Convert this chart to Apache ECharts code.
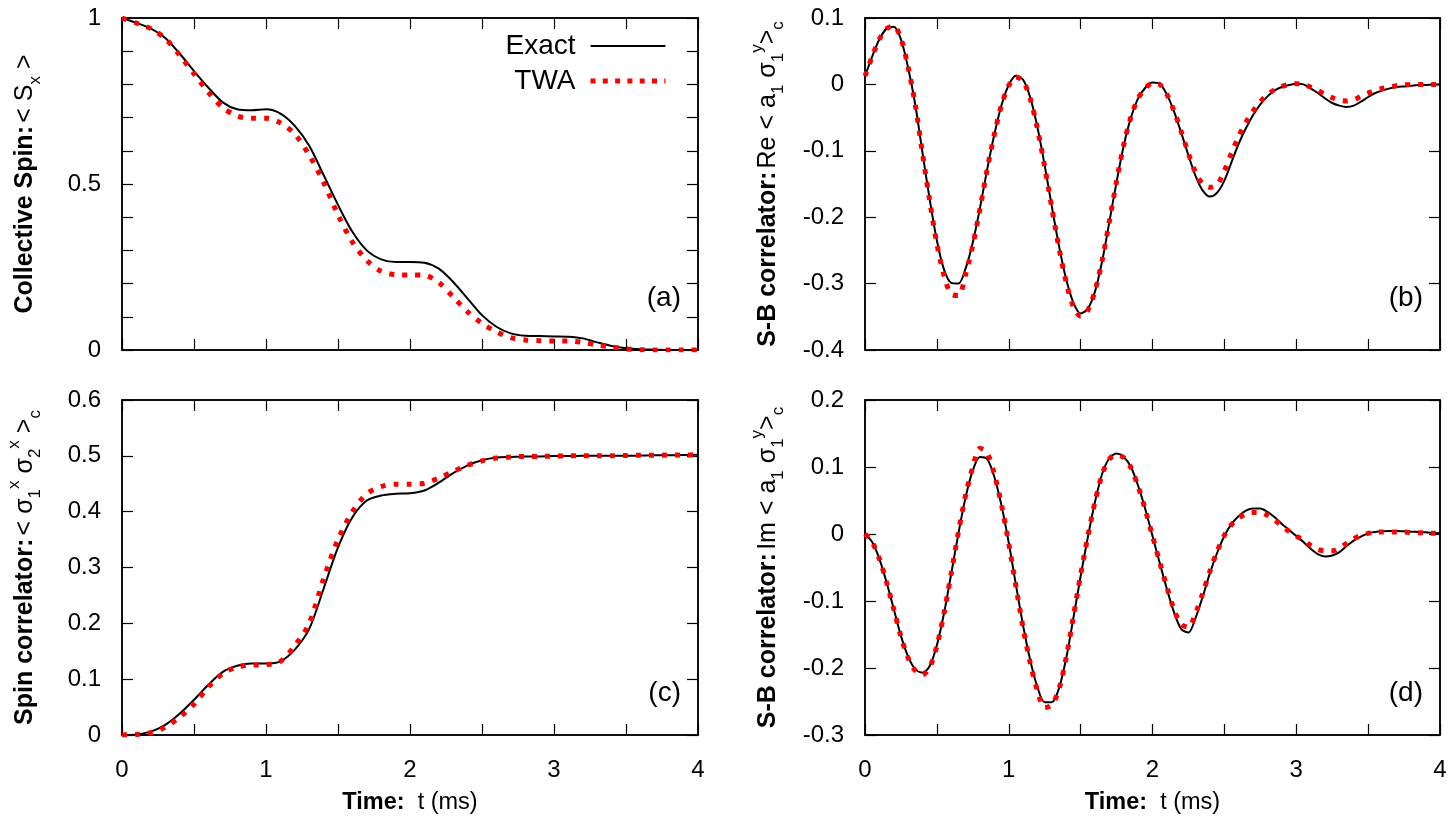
<!DOCTYPE html>
<html><head><meta charset="utf-8">
<script src="https://cdn.jsdelivr.net/npm/echarts@6/dist/echarts.min.js"></script>
<style>html,body{margin:0;padding:0;background:#fff}#c{width:1456px;height:821px}</style>
</head><body><div id="c"></div>
<script>
// ---------- data ----------
const tCoarse = [0,0.1,0.2,0.3,0.4,0.5,0.6,0.7,0.8,0.9,1.0,1.1,1.2,1.3,1.4,1.5,1.6,1.7,1.8,1.9,2.0,
  2.1,2.2,2.3,2.4,2.5,2.6,2.7,2.8,2.9,3.0,3.1,3.2,3.3,3.4,3.5,3.6,3.7,3.8,3.9,4.0];
const tFine = [0,0.05,0.1,0.15,0.2,0.25,0.3,0.35,0.4,0.45,0.5,0.55,0.6,0.65,0.7,0.75,0.8,0.85,0.9,0.95,
  1.0,1.05,1.1,1.15,1.2,1.25,1.3,1.35,1.4,1.45,1.5,1.55,1.6,1.65,1.7,1.75,1.8,1.85,1.9,1.95,
  2.0,2.05,2.1,2.15,2.2,2.25,2.3,2.35,2.4,2.45,2.5,2.55,2.6,2.65,2.7,2.75,2.8,2.85,2.9,2.95,
  3.0,3.05,3.1,3.15,3.2,3.25,3.3,3.35,3.4,3.45,3.5,3.55,3.6,3.65,3.7,3.75,3.8,3.85,3.9,3.95,4.0];

// (a) collective spin
const exactA = [1.0,0.985,0.968,0.94,0.893,0.84,0.79,0.746,0.725,0.722,
  0.725,0.712,0.675,0.615,0.527,0.437,0.356,0.300,0.273,0.265,
  0.265,0.263,0.245,0.205,0.155,0.105,0.070,0.050,0.043,0.042,
  0.041,0.040,0.035,0.023,0.012,0.005,0.002,0.001,0.000,0.000,0.000];
const twaA = [1.0,0.985,0.968,0.938,0.888,0.832,0.776,0.730,0.705,0.698,
  0.698,0.684,0.650,0.587,0.505,0.407,0.325,0.270,0.237,0.227,
  0.226,0.225,0.203,0.160,0.115,0.080,0.055,0.037,0.030,0.028,
  0.027,0.027,0.023,0.015,0.009,0.003,0.001,0.000,0.000,0.000,0.000];

// (b) Re S-B correlator
const exactB = [0.0125,0.042,0.068,0.084,0.087,0.068,0.025,-0.031,-0.103,-0.173,
  -0.235,-0.279,-0.299,-0.300,-0.277,-0.238,-0.186,-0.128,-0.075,-0.031,
  -0.001,0.013,0.007,-0.020,-0.065,-0.122,-0.184,-0.244,-0.294,-0.329,
  -0.345,-0.338,-0.312,-0.266,-0.207,-0.147,-0.092,-0.050,-0.021,-0.005,
  0.003,0.001,-0.015,-0.041,-0.073,-0.107,-0.138,-0.160,-0.169,-0.163,
  -0.145,-0.117,-0.089,-0.066,-0.046,-0.030,-0.018,-0.009,-0.004,-0.001,
  0.001,0.000,-0.006,-0.013,-0.021,-0.028,-0.032,-0.034,-0.032,-0.026,
  -0.019,-0.013,-0.009,-0.006,-0.004,-0.003,-0.002,-0.001,-0.001,0.000,0.000];
const twaB = [0.0125,0.042,0.068,0.084,0.088,0.069,0.026,-0.031,-0.104,-0.175,
  -0.240,-0.288,-0.316,-0.318,-0.286,-0.242,-0.187,-0.128,-0.075,-0.031,
  -0.002,0.011,0.005,-0.022,-0.067,-0.124,-0.186,-0.247,-0.298,-0.335,
  -0.349,-0.340,-0.311,-0.265,-0.206,-0.146,-0.091,-0.049,-0.021,-0.006,
  0.002,0.000,-0.015,-0.040,-0.071,-0.104,-0.133,-0.150,-0.155,-0.151,
  -0.130,-0.103,-0.078,-0.057,-0.040,-0.026,-0.015,-0.008,-0.003,0.000,
  0.001,0.000,-0.004,-0.009,-0.015,-0.020,-0.024,-0.025,-0.023,-0.018,
  -0.013,-0.009,-0.006,-0.004,-0.002,-0.001,0.000,0.000,0.000,0.000,0.000];

// (c) spin correlator
const exactC = [0,0.001,0.006,0.018,0.038,0.063,0.090,0.113,0.124,0.128,
  0.128,0.132,0.153,0.190,0.262,0.336,0.390,0.420,0.429,0.432,
  0.433,0.438,0.452,0.469,0.483,0.492,0.497,0.498,0.499,0.499,
  0.4995,0.4995,0.500,0.500,0.500,0.500,0.5005,0.501,0.501,0.5015,0.502];
const twaC = [0,0.001,0.004,0.014,0.032,0.055,0.086,0.110,0.122,0.125,
  0.126,0.132,0.160,0.200,0.280,0.350,0.400,0.432,0.445,0.449,
  0.449,0.451,0.460,0.472,0.483,0.491,0.496,0.498,0.499,0.499,
  0.4995,0.500,0.500,0.500,0.500,0.5005,0.501,0.501,0.5015,0.5015,0.502];

// (d) Im S-B correlator
const exactD = [0,-0.012,-0.037,-0.072,-0.112,-0.152,-0.183,-0.202,-0.207,-0.197,
  -0.166,-0.118,-0.059,0.001,0.055,0.095,0.115,0.112,0.085,0.042,
  -0.013,-0.076,-0.137,-0.189,-0.229,-0.251,-0.251,-0.230,-0.185,-0.125,
  -0.063,-0.005,0.048,0.090,0.113,0.120,0.115,0.100,0.072,0.037,
  -0.003,-0.043,-0.082,-0.117,-0.142,-0.147,-0.125,-0.093,-0.058,-0.028,
  -0.003,0.015,0.027,0.035,0.038,0.038,0.033,0.025,0.015,0.006,
  -0.003,-0.012,-0.022,-0.030,-0.0335,-0.032,-0.027,-0.018,-0.010,-0.004,
  0.001,0.003,0.004,0.0045,0.0045,0.004,0.0035,0.003,0.0025,0.002,0.001];
const twaD = [0,-0.012,-0.037,-0.072,-0.112,-0.153,-0.185,-0.204,-0.210,-0.199,
  -0.167,-0.118,-0.058,0.003,0.058,0.100,0.128,0.121,0.089,0.043,
  -0.014,-0.078,-0.140,-0.193,-0.234,-0.259,-0.255,-0.231,-0.184,-0.123,
  -0.061,-0.004,0.048,0.089,0.112,0.118,0.114,0.099,0.071,0.036,
  -0.003,-0.042,-0.079,-0.113,-0.135,-0.139,-0.118,-0.088,-0.055,-0.026,
  -0.002,0.014,0.024,0.030,0.032,0.032,0.028,0.021,0.012,0.004,
  -0.003,-0.009,-0.017,-0.023,-0.025,-0.025,-0.021,-0.014,-0.007,-0.002,
  0.001,0.003,0.003,0.003,0.003,0.003,0.002,0.002,0.002,0.001,0.001];

const xLabelValues = [0,1,2,3,4];
const yLabelsA = [0,0.5,1];
const yLabelsB = [0.1,0,-0.1,-0.2,-0.3,-0.4];
const yLabelsC = [0,0.1,0.2,0.3,0.4,0.5,0.6];
const yLabelsD = [0.2,0.1,0,-0.1,-0.2,-0.3];
const seriesNames = ['Exact','TWA'];
const panelLabels = ['(a)','(b)','(c)','(d)'];

// ---------- chart ----------
const F = '"Liberation Sans", Arial, Helvetica, sans-serif';
const richY = {
  b:   {fontSize:25, fontWeight:'bold', fontFamily:F, color:'#000', lineHeight:38},
  n:   {fontSize:25, fontFamily:F, color:'#000', lineHeight:38},
  sub: {fontSize:17, fontFamily:F, color:'#000', lineHeight:17, verticalAlign:'bottom'},
  sup: {fontSize:17, fontFamily:F, color:'#000', lineHeight:17, verticalAlign:'top'}
};
const richX = {
  b: {fontSize:23.5, fontWeight:'bold', fontFamily:F, color:'#000'},
  n: {fontSize:23.5, fontFamily:F, color:'#000'}
};
const yNames = [
  '{b|Collective Spin:} {n|< S}{sub|x}{n| >}',
  '{b|S-B correlator:} {n|Re < a}{sub|1}{n| σ}{sub|1}{sup|y}{n|>}{sub|c}',
  '{b|Spin correlator:} {n|< σ}{sub|1}{sup|x}{n| σ}{sub|2}{sup|x}{n| >}{sub|c}',
  '{b|S-B correlator:} {n|Im < a}{sub|1}{n| σ}{sub|1}{sup|y}{n|>}{sub|c}'
];
const xName = '{b|Time:}{n|  t (ms)}';

const grids = [
  {left:122, right:758, top:18, bottom:471},
  {left:865, right:16, top:18, bottom:471},
  {left:122, right:758, top:400, bottom:86},
  {left:865, right:16, top:400, bottom:86}
];
const yRanges = [[0,1],[-0.4,0.1],[0,0.6],[-0.3,0.2]];
const yLabelSets = [yLabelsA, yLabelsB, yLabelsC, yLabelsD];
const showX = [false,false,true,true];

const lineCol = '#000';
const has = (arr, v) => arr.some(a => Math.abs(a - v) < 1e-9);
const fmt = v => { const r = Math.round(v*1000)/1000; return String(r); };

const xAxes = [], yAxes = [];
grids.forEach((g, i) => {
  const common = {
    type:'value', gridIndex:i,
    axisLine:{show:true, onZero:false, lineStyle:{color:lineCol, width:1.5}},
    axisTick:{show:true, inside:true, length:11, lineStyle:{color:lineCol, width:1.2}},
    splitLine:{show:false}
  };
  xAxes.push(Object.assign({}, common, {
    position:'bottom', min:0, max:4, interval:0.5,
    axisLabel:{show:showX[i], margin:23, fontSize:24, fontFamily:F, color:'#000',
      formatter: v => has(xLabelValues, v) ? fmt(v) : ''},
    name: showX[i] ? xName : '', nameLocation:'middle', nameGap:56,
    nameTextStyle:{rich: richX}
  }));
  xAxes.push(Object.assign({}, common, {
    position:'top', min:0, max:4, interval:0.5, axisLabel:{show:false}
  }));
  yAxes.push(Object.assign({}, common, {
    position:'left', min:yRanges[i][0], max:yRanges[i][1], interval:0.1,
    axisLabel:{show:true, margin:21, fontSize:24, fontFamily:F, color:'#000',
      formatter: v => has(yLabelSets[i], v) ? fmt(v) : ''},
    name: yNames[i], nameLocation:'middle', nameRotate:90, nameGap:78,
    nameTextStyle:{rich: richY}
  }));
  yAxes.push(Object.assign({}, common, {
    position:'right', min:yRanges[i][0], max:yRanges[i][1], interval:0.1, axisLabel:{show:false}
  }));
});

const pairs = (t, v) => t.map((x, k) => [x, v[k]]);
const dataSets = [
  [tCoarse, exactA, twaA],
  [tFine, exactB, twaB],
  [tCoarse, exactC, twaC],
  [tFine, exactD, twaD]
];
const exactStyle = {color:'#000', width:2};
const twaStyle = {color:'#ff0000', width:5, type:[5, 8], cap:'butt'};
const series = [];
dataSets.forEach((d, i) => {
  series.push({
    name: seriesNames[0], type:'line', xAxisIndex:2*i, yAxisIndex:2*i,
    data: pairs(d[0], d[1]), symbol:'none', smooth:0.3, z:2,
    lineStyle: exactStyle, itemStyle:{color:'#000'}
  });
  series.push({
    name: seriesNames[1], type:'line', xAxisIndex:2*i, yAxisIndex:2*i,
    data: pairs(d[0], d[2]), symbol:'none', smooth:0.3, z:3,
    lineStyle: twaStyle, itemStyle:{color:'#ff0000'}
  });
});

const labelPos = [[681,298],[1423,298],[681,693],[1423,693]];
const graphic = panelLabels.map((s, i) => ({
  type:'text', x:labelPos[i][0], y:labelPos[i][1],
  style:{text:s, fontSize:28, fontFamily:F, fill:'#000', align:'right', verticalAlign:'middle'}
}));

const chart = echarts.init(document.getElementById('c'), null, {renderer:'canvas'});
chart.setOption({
  animation:false,
  backgroundColor:'#fff',
  grid: grids.map(g => Object.assign({show:true, borderColor:'#000', borderWidth:1.5, backgroundColor:'transparent'}, g)),
  xAxis: xAxes,
  yAxis: yAxes,
  legend: {
    data: [
      {name:seriesNames[0], lineStyle:{width:2, color:'#000', type:'solid'}},
      {name:seriesNames[1], lineStyle:{width:5, color:'#ff0000', type:[5, 7.3], cap:'butt'}}
    ],
    orient:'vertical', align:'right', right:788, top:31, padding:0,
    itemWidth:75, itemHeight:14, itemGap:5,
    textStyle:{fontSize:28, fontFamily:F, color:'#000', lineHeight:30, padding:[0,10,0,0]},
    itemStyle:{opacity:0}
  },
  graphic: graphic,
  series: series
});
</script>
</body></html>
